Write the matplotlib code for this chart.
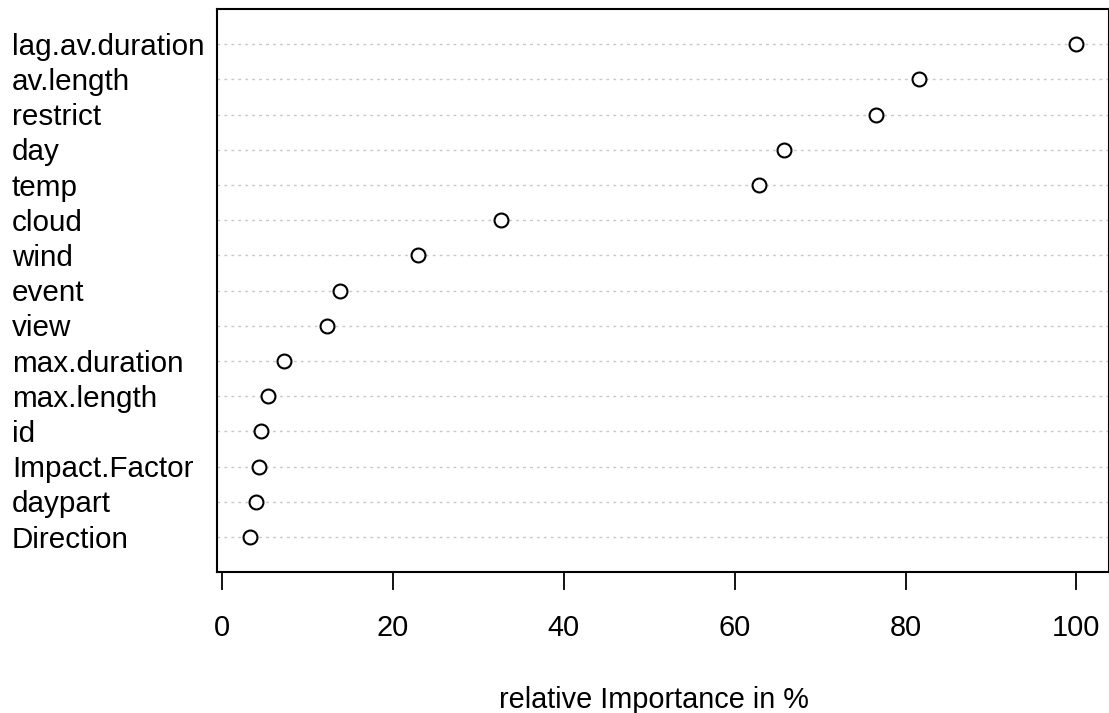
import matplotlib
matplotlib.use("Agg")
import matplotlib.pyplot as plt
import matplotlib.transforms as mtransforms

# variables, listed from top row to bottom row
variables = ['lag.av.duration', 'av.length', 'restrict', 'day', 'temp', 'cloud',
             'wind', 'event', 'view', 'max.duration', 'max.length', 'id',
             'Impact.Factor', 'daypart', 'Direction']
importance = [100.0, 81.6, 76.5, 65.8, 62.8, 32.6,
              22.9, 13.8, 12.3, 7.2, 5.35, 4.5,
              4.3, 4.0, 3.24]
xticks = [0, 20, 40, 60, 80, 100]

plt.rcParams['font.family'] = ['Liberation Sans', 'DejaVu Sans']

W, H = 1109, 713
fig = plt.figure(figsize=(W / 100, H / 100), dpi=100)
ax = fig.add_axes([217 / W, (H - 572.3) / H, (1108.5 - 217) / W, (572.3 - 9) / H])

n = len(variables)
rows = list(range(n, 0, -1))

for y in rows:
    ax.axhline(y, color='#C8C8C8', lw=1.0, linestyle=(0, (2, 3)), zorder=1)

ax.plot(importance, rows, linestyle='none', marker='o', ms=10, mfc='white',
        mec='black', mew=1.5, zorder=3)

ax.set_xlim(-0.62, 103.77)
ax.set_ylim(0, n + 1)
ax.set_xticks(xticks)
ax.set_xticklabels([str(t) for t in xticks], fontsize=20.8)
ax.set_yticks([])
ax.tick_params(axis='x', direction='out', length=13, width=1.3, pad=17)
for s in ax.spines.values():
    s.set_linewidth(1.5)

trans = mtransforms.blended_transform_factory(fig.transFigure, ax.transData)
for name, y in zip(variables, rows):
    ax.text(12 / W, y - 0.3, name, transform=trans, ha='left', va='baseline',
            fontsize=21.3, clip_on=False)

fig.text(654 / W, (H - 700) / H, 'relative Importance in %', ha='center',
         va='center', fontsize=20.8)

fig.savefig('out.png', dpi=100)
